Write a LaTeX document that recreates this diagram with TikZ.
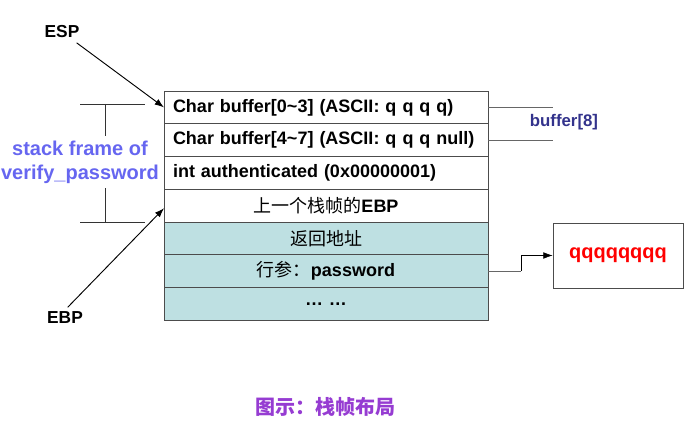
\documentclass[tikz,border=0pt]{standalone}
\usepackage{fontspec}
\setmainfont{Liberation Sans}
\newfontfamily\cjk{Noto Sans CJK SC}
\usetikzlibrary{positioning,arrows.meta}
\definecolor{stackteal}{RGB}{190,224,226}
\definecolor{frameblue}{RGB}{102,102,240}
\definecolor{bufnavy}{RGB}{51,51,140}
\definecolor{capviolet}{RGB}{150,60,210}

\begin{document}
\begin{tikzpicture}[x=0.75pt,y=-0.75pt,>={Latex[length=7pt,width=5pt]},
  slot/.style={draw=black!70,line width=0.6pt,minimum width=243pt,minimum height=24.55pt,
    inner xsep=6.75pt,inner ysep=0pt,outer sep=0pt,text width=229.5pt,
    font=\fontsize{13.5}{16}\selectfont\bfseries},
  lslot/.style={slot,align=left},
  cslot/.style={slot,align=center},
  ret/.style={cslot,fill=stackteal},
  reg/.style={font=\fontsize{13}{15}\selectfont\bfseries}]
\useasboundingbox (0,0) rectangle (690,423);
\node[lslot] (r0) at (326,107.4) {Char buffer[0\textasciitilde3] (ASCII: q q q q)};
\node[lslot,below=0pt of r0] (r1) {Char buffer[4\textasciitilde7] (ASCII: q q q null)};
\node[lslot,below=0pt of r1] (r2) {int authenticated (0x00000001)};
\node[cslot,below=0pt of r2] (r3) {{\cjk\mdseries 上一个栈帧的}EBP};
\node[ret,below=0pt of r3] (r4) {{\cjk\mdseries 返回地址}};
\node[ret,below=0pt of r4] (r5) {{\cjk\mdseries 行参：}password};
\node[ret,below=0pt of r5] (r6) {\ldots\ \ldots};
\node[reg] (esp) at (62,32) {ESP};
\node[reg] (ebp) at (65,318) {EBP};
\draw[->,line width=0.7pt] (esp) -- (r0.west);
\draw[->,line width=0.7pt] ([xshift=2pt]ebp.north) -- ([yshift=-2pt]r3.west);
\node[frameblue,align=center,font=\fontsize{15}{18}\selectfont\bfseries] (sf) at (80,162) {stack frame of\\verify\_password};
\coordinate (ft) at (105,104);
\coordinate (fb) at (105,222);
\draw[black!80] (80,104) -- (145,104);
\draw[black!80] (80,222) -- (145,222);
\draw[black!80] (ft) -- (ft |- sf.north);
\draw[black!80] (fb) -- (fb |- sf.south);
\draw[black!60] (r0.east) -- ++(65,0);
\draw[black!60] (r1.east) -- ++(65,0);
\node[bufnavy,font=\fontsize{12.6}{15}\selectfont\bfseries] (buf) at (564,122) {buffer[8]};
\node[draw=black!70,line width=0.6pt,minimum width=97.5pt,minimum height=48.75pt,
  text=red,font=\fontsize{15}{18}\selectfont\bfseries] (qbox) at (618,255.5) {qqqqqqqq};
\draw[black!60] (r5.east) -- ++(33,0) coordinate (bend);
\draw[->] (bend) |- (qbox.west);
\node[capviolet,font=\fontsize{15}{18}\selectfont\cjk\bfseries] (cap) at (325,407) {图示：栈帧布局};
\end{tikzpicture}
\end{document}
